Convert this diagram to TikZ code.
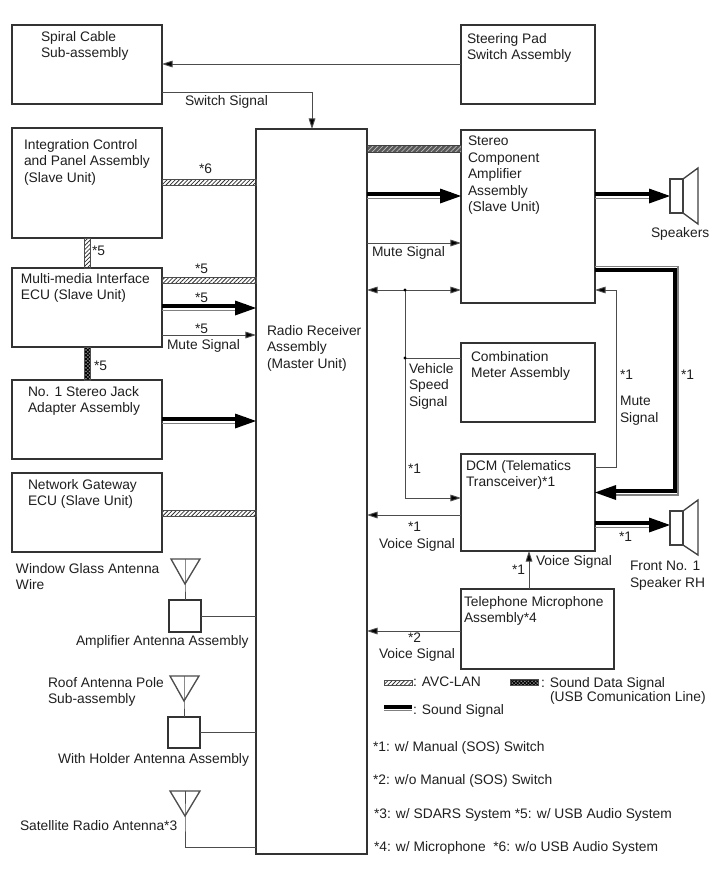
\documentclass[tikz,border=0pt]{standalone}
\usepackage{fontspec}
\setmainfont{Liberation Sans}
\usetikzlibrary{arrows.meta,patterns.meta}
\definecolor{wire}{gray}{0.3}
\newcommand{\lab}[4]{\node[lbl] (#1) at (#2,#3) {\rule{0pt}{7pt}#4};}
\newcommand{\blk}[5]{\node[blockbox,fit coords={#2}{#3}{#4}{#5}] (#1) {};}
\tikzset{
  fit coords/.code n args={4}{%
    \pgfmathsetmacro{\bw}{(#3-#1)*0.75}\pgfmathsetmacro{\bh}{(#4-#2)*0.75}%
    \pgfmathsetmacro{\cx}{(#1+#3)/2}\pgfmathsetmacro{\cy}{(#2+#4)/2}%
    \tikzset{minimum width=\bw pt,minimum height=\bh pt,at={(\cx,\cy)}}},
  lbl/.style={anchor=north west,inner sep=0pt,outer sep=0pt,align=left,yshift=3.6pt,text=black!88,
    font=\fontsize{10.35}{12.4}\selectfont},
  blockbox/.style={draw=black!80,line width=1.1pt,fill=white,inner sep=0pt,outer sep=0pt},
  wireline/.style={draw=wire,line width=.7pt},
  sig/.style={wireline,-{Triangle[length=8pt,width=5pt,fill=black]}},
  sigboth/.style={wireline,{Triangle[length=8pt,width=5pt,fill=black]}-{Triangle[length=8pt,width=5pt,fill=black]}},
  avc/.style={draw=black!70,line width=.4pt,pattern={Lines[angle=45,distance=2.2pt,line width=.6pt]},pattern color=black!80},
  avcdark/.style={draw=black!75,line width=.4pt,preaction={fill=black!65},pattern={Lines[angle=45,distance=2.6pt,line width=.5pt]},pattern color=white!75!black},
  usb/.style={draw=black!70,line width=.4pt,preaction={fill=black!45},pattern={Hatch[angle=45,distance=1.9pt,line width=.7pt]},pattern color=black},
  sndmain/.style={draw=black,line width=3.2pt},
  sndedge/.style={draw=black!50,line width=1.1pt},
  horn/.style={draw=black!75,line width=1pt,fill=white,line join=miter},
  aerial/.style={draw=black!70,line width=1pt,line join=miter},
}
\begin{document}
\begin{tikzpicture}[x=.75pt,y=-.75pt]
\useasboundingbox (0,0) rectangle (713,882);
% blocks
\blk{spiral}{12}{25}{162}{104}
\blk{steer}{461}{25}{595}{104}
\blk{radio}{256}{129}{367}{854}
\blk{integ}{12}{128}{162}{238}
\blk{mmi}{12}{268}{162}{347}
\blk{jack}{12}{380}{162}{459}
\blk{gate}{12}{473}{162}{552}
\blk{amp}{461}{130}{595}{303}
\blk{meter}{461}{343}{595}{422}
\blk{dcm}{461}{454}{595}{551}
\blk{mic}{461}{589}{614}{669}
\blk{ampant}{169}{600}{201}{632}
\blk{holdant}{168}{717}{200}{748}
% helper coordinates
\coordinate (topsw) at (312,92);
\coordinate (d1) at (405,290);
\coordinate (d2) at (405,358);
\coordinate (dcmin) at (405,498);
\coordinate (mc) at (616,290);
\coordinate (md) at (616,467);
\coordinate (c1) at (675,270);
\coordinate (c2) at (675,491);
\coordinate (windtip) at (185,584);
\coordinate (rooftip) at (184,701);
\coordinate (sattip) at (185,816);
\coordinate (satc) at (185,847);
\coordinate (micup) at (529,589);
% thin signals
\draw[sig] (steer.west |- 0,64) -- (spiral.east |- 0,64);
\draw[wireline] (spiral.east |- topsw) -- (topsw);
\draw[sig] (topsw) -- (topsw |- radio.north);
\draw[sig] (mmi.east |- 0,335) -- (radio.west |- 0,335);
\draw[sig] (radio.east |- 0,243) -- (amp.west |- 0,243);
\draw[sigboth] (radio.east |- d1) -- (amp.west |- d1);
\draw[wireline] (d1) -- (d2);
\draw[sig] (d2) -- (dcmin) -- (dcm.west |- dcmin);
\draw[wireline] (d2) -- (meter.west |- d2);
\fill[black] (d1) circle (1.2pt) (d2) circle (1.2pt);
\draw[sig] (dcm.east |- md) -- (md) -- (mc) -- (amp.east |- mc);
\draw[sig] (dcm.west |- 0,515) -- (radio.east |- 0,515);
\draw[sig] (mic.west |- 0,631) -- (radio.east |- 0,631);
\draw[sig] (micup) -- (micup |- dcm.south);
\draw[wireline] (ampant.east) -- (radio.west |- ampant.east);
\draw[wireline] (holdant.east) -- (radio.west |- holdant.east);
% bus bars
\path[avc] (integ.east |- 0,179) rectangle (radio.west |- 0,185);
\path[avc] (mmi.east |- 0,277) rectangle (radio.west |- 0,283);
\path[avc] (gate.east |- 0,510) rectangle (radio.west |- 0,516);
\path[avc] (84,238) rectangle (90,268);
\path[usb] (84,347) rectangle (90,380);
\path[avcdark] (radio.east |- 0,145) rectangle (amp.west |- 0,152);
% sound signals
\foreach \xa/\xb/\yy in {162/256/308,162/256/421,367/461/196,595/670/196,595/670/525}{
  \draw[sndmain] (\xa,\yy-2) -- (\xb-10,\yy-2);
  \draw[sndedge] (\xa,\yy+2.4) -- (\xb-10,\yy+2.4);
  \fill (\xb,\yy) -- (\xb-21,\yy-7.5) -- (\xb-21,\yy+7.5) -- cycle;
}
\draw[sndmain,line join=miter] (amp.east |- 0,270) -- (c1) -- (c2) -- (606,491);
\draw[sndedge,line join=miter] (amp.east |- 0,266.5) -- (678,266.5) -- (678,495) -- (606,495);
\fill (dcm.east |- 0,492.5) -- (616,485) -- (616,500) -- cycle;
% speakers
\draw[horn] (683,179) -- (698,168) -- (698,224) -- (683,213) -- cycle;
\draw[horn] (670,179) rectangle (683,213);
\draw[horn] (683,511) -- (698,500) -- (698,555) -- (683,545) -- cycle;
\draw[horn] (670,511) rectangle (683,545);
% antennas
\draw[aerial] (171,559) -- (200,559) -- (windtip) -- cycle;
\draw[wireline] (185,559) -- (windtip) -- (ampant.north -| windtip);
\draw[aerial] (170,676) -- (199,676) -- (rooftip) -- cycle;
\draw[wireline] (184,676) -- (rooftip) -- (holdant.north -| rooftip);
\draw[aerial] (170,791) -- (200,791) -- (sattip) -- cycle;
\draw[wireline] (185,791) -- (sattip) -- (satc) -- (radio.west |- satc);
% legend swatches
\path[avc] (384,680) rectangle (412,685);
\path[usb] (510,679) rectangle (538,685);
\draw[sndmain] (384,707) -- (412,707);
\draw[sndedge] (384,710.5) -- (412,710.5);
% labels
\lab{t1}{41}{36}{Spiral Cable\\Sub-assembly}
\lab{t2}{467}{38}{Steering Pad\\Switch Assembly}
\lab{t3}{185}{100}{Switch Signal}
\lab{t4}{24}{144}{Integration Control\\and Panel Assembly\\(Slave Unit)}
\lab{t5}{199}{169}{*6}
\lab{t6}{21}{278}{Multi-media Interface\\ECU (Slave Unit)}
\lab{t7}{195}{269}{*5}
\lab{t8}{195}{298}{*5}
\lab{t9}{195}{329}{*5}
\lab{t10}{167}{344}{Mute Signal}
\lab{t11}{92}{251}{*5}
\lab{t12}{94}{366}{*5}
\lab{t13}{28}{391}{No. 1 Stereo Jack\\Adapter Assembly}
\lab{t14}{28}{484}{Network Gateway\\ECU (Slave Unit)}
\lab{t15}{16}{568}{Window Glass Antenna\\Wire}
\lab{t16}{76}{640}{Amplifier Antenna Assembly}
\lab{t17}{48}{682}{Roof Antenna Pole\\Sub-assembly}
\lab{t18}{58}{758}{With Holder Antenna Assembly}
\lab{t19}{20}{825}{Satellite Radio Antenna*3}
\lab{t20}{267}{330}{Radio Receiver\\Assembly\\(Master Unit)}
\lab{t21}{468}{141}{Stereo\\Component\\Amplifier\\Assembly\\(Slave Unit)}
\lab{t22}{651}{232}{Speakers}
\lab{t23}{372}{251}{Mute Signal}
\lab{t24}{409}{368}{Vehicle\\Speed\\Signal}
\lab{t25}{471}{356}{Combination\\Meter Assembly}
\lab{t26}{408}{469}{*1}
\lab{t27}{620}{375}{*1}
\lab{t28}{620}{401}{Mute\\Signal}
\lab{t29}{681}{375}{*1}
\lab{t30}{466}{465}{DCM (Telematics\\Transceiver)*1}
\lab{t31}{408}{527}{*1}
\lab{t32}{379}{543}{Voice Signal}
\lab{t33}{619}{537}{*1}
\lab{t34}{536}{560}{Voice Signal}
\lab{t35}{512}{570}{*1}
\lab{t36}{630}{566}{Front No. 1\\Speaker RH}
\lab{t37}{464}{601}{Telephone Microphone\\Assembly*4}
\lab{t38}{408}{638}{*2}
\lab{t39}{379}{653}{Voice Signal}
\lab{t40}{413}{682}{: AVC-LAN}
\lab{t41}{541}{682}{: Sound Data Signal}
\lab{t42}{550}{696}{(USB Comunication Line)}
\lab{t43}{413}{709}{: Sound Signal}
\lab{t44}{373}{746}{*1: w/ Manual (SOS) Switch}
\lab{t45}{373}{779}{*2: w/o Manual (SOS) Switch}
\lab{t46}{374}{813}{*3: w/ SDARS System *5: w/ USB Audio System}
\lab{t47}{374}{846}{*4: w/ Microphone\ \ *6: w/o USB Audio System}
\end{tikzpicture}
\end{document}
